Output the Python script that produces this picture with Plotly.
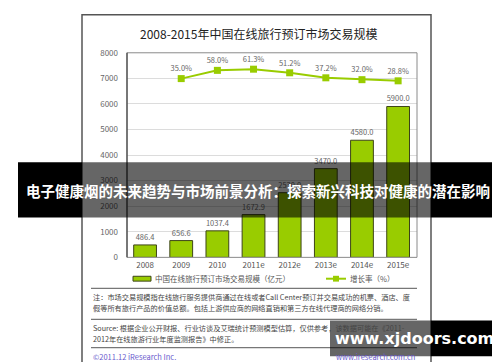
import plotly.graph_objects as go

# ---------------- data ----------------
years = ["2008", "2009", "2010", "2011e", "2012e", "2013e", "2014e", "2015e"]
market_size = [486.4, 656.6, 1037.4, 1672.9, 2530.0, 3470.0, 4580.0, 5900.0]
growth_years = ["2009", "2010", "2011e", "2012e", "2013e", "2014e", "2015e"]
growth_rate = [35.0, 58.0, 61.3, 51.2, 37.2, 32.0, 28.8]
y_ticks = [0, 1000, 2000, 3000, 4000, 5000, 6000, 7000, 8000]

title_text = "2008-2015年中国在线旅行预订市场交易规模"
legend_bar = "中国在线旅行预订市场交易规模（亿元）"
legend_line = "增长率（%）"
note_lines = [
    "注：市场交易规模指在线旅行服务提供商通过在线或者Call Center预订并交易成功的机票、酒店、度",
    "假等所有旅行产品的价值总额。包括上游供应商的网络直销和第三方在线代理商的网络分销。",
]
source_lines = [
    "Source: 根据企业公开财报、行业访谈及艾瑞统计预测模型估算，仅供参考，该数据可能在《2011-",
    "2012年在线旅游行业年度监测报告》中修正。",
]
footer_left = "©2011.12 iResearch Inc."
footer_right = "www.iresearch.com.cn"
banner_text = "电子健康烟的未来趋势与市场前景分析：探索新兴科技对健康的潜在影响"
watermark_text = "www.xjdoors.com"

# ---------------- layout helpers ----------------
W, H = 500, 362
def px(x):
    return x / W
def py(y):
    return 1 - y / H

GREEN = "#99CC00"
CJK = "Noto Sans CJK SC, Noto Sans, DejaVu Sans"

PL, PR, PT, PB = 119, 409, 40, 251

fig = go.Figure()

fig.add_trace(go.Bar(
    x=years, y=market_size,
    marker=dict(color=GREEN, line=dict(color="#3d4418", width=1)),
    text=[f"{v:.1f}" for v in market_size],
    textposition="outside",
    textfont=dict(size=7.5, color="#666", family=CJK),
    constraintext="none",
    cliponaxis=False,
    showlegend=False,
    yaxis="y",
))

fig.add_trace(go.Scatter(
    x=growth_years, y=growth_rate,
    mode="lines+markers+text",
    line=dict(color=GREEN, width=2),
    marker=dict(symbol="square", size=7, color=GREEN),
    text=[f"{v:.1f}%" for v in growth_rate],
    textposition="top center",
    textfont=dict(size=7.5, color="#666", family=CJK),
    cliponaxis=False,
    showlegend=False,
    yaxis="y2",
))

fig.update_layout(
    width=W, height=H, autosize=False,
    margin=dict(l=0, r=0, t=0, b=0),
    paper_bgcolor="white", plot_bgcolor="white",
    bargap=0.37,
    xaxis=dict(
        domain=[px(PL), px(PR)],
        showgrid=False, showline=False, ticks="",
        tickfont=dict(size=8, color="#555", family=CJK),
        ticklabelstandoff=2,
    ),
    yaxis=dict(
        domain=[py(PB), py(PT)],
        range=[0, 8000],
        tickvals=y_ticks,
        showgrid=True, gridcolor="#dcdcdc", gridwidth=1,
        zeroline=False, showline=False, ticks="",
        tickfont=dict(size=8, color="#666", family=CJK),
        ticklabelstandoff=8,
    ),
    yaxis2=dict(
        domain=[py(PB), py(PT)],
        overlaying="y", range=[-464.3, 107.1],
        visible=False,
    ),
)

shapes = []
annotations = []

# outer chart frame
shapes.append(dict(type="rect", xref="paper", yref="paper",
                   x0=px(74), x1=px(423), y0=py(361), y1=py(0.8),
                   line=dict(color="#555", width=1.5), fillcolor="rgba(0,0,0,0)", layer="below"))
# plot frame
shapes.append(dict(type="rect", xref="paper", yref="paper",
                   x0=px(PL), x1=px(PR), y0=py(PB), y1=py(PT),
                   line=dict(color="#8a8a8a", width=1), layer="above"))
shapes.append(dict(type="line", xref="paper", yref="paper",
                   x0=px(PL), x1=px(PL), y0=py(PB), y1=py(PT),
                   line=dict(color="#444", width=1.2)))

# title
annotations.append(dict(x=px(250), y=py(20), xref="paper", yref="paper",
                        text=title_text, showarrow=False,
                        font=dict(size=12, color="#222", family=CJK),
                        xanchor="center", yanchor="middle"))

# legend
shapes.append(dict(type="rect", xref="paper", yref="paper",
                   x0=px(125), x1=px(143), y0=py(275.5), y1=py(270.5),
                   fillcolor=GREEN, line=dict(color="#3d4418", width=1)))
annotations.append(dict(x=px(145), y=py(273), xref="paper", yref="paper",
                        text=legend_bar, showarrow=False,
                        font=dict(size=7.5, color="#555", family=CJK),
                        xanchor="left", yanchor="middle"))
shapes.append(dict(type="line", xref="paper", yref="paper",
                   x0=px(318), x1=px(338), y0=py(273), y1=py(273),
                   line=dict(color=GREEN, width=2)))
shapes.append(dict(type="rect", xref="paper", yref="paper",
                   x0=px(325), x1=px(331), y0=py(276), y1=py(270),
                   fillcolor=GREEN, line=dict(width=0)))
annotations.append(dict(x=px(340), y=py(273), xref="paper", yref="paper",
                        text=legend_line, showarrow=False,
                        font=dict(size=7.5, color="#555", family=CJK),
                        xanchor="left", yanchor="middle"))

# separator lines
for yy in (283, 315, 344):
    shapes.append(dict(type="line", xref="paper", yref="paper",
                       x0=px(83), x1=px(409), y0=py(yy), y1=py(yy),
                       line=dict(color="#777", width=1.3)))

# notes and source
for i, t in enumerate(note_lines):
    annotations.append(dict(x=px(83), y=py(292 + 11 * i), xref="paper", yref="paper",
                            text=t, showarrow=False,
                            font=dict(size=7.2, color="#444", family=CJK),
                            xanchor="left", yanchor="middle"))
for i, t in enumerate(source_lines):
    annotations.append(dict(x=px(83), y=py(324 + 11 * i), xref="paper", yref="paper",
                            text=t, showarrow=False,
                            font=dict(size=7.2, color="#444", family=CJK),
                            xanchor="left", yanchor="middle"))
annotations.append(dict(x=px(83), y=py(353), xref="paper", yref="paper",
                        text=footer_left, showarrow=False,
                        font=dict(size=7.5, color="#6a5acd", family=CJK),
                        xanchor="left", yanchor="middle"))
annotations.append(dict(x=px(409), y=py(353), xref="paper", yref="paper",
                        text=footer_right, showarrow=False,
                        font=dict(size=7.5, color="#6a5acd", family=CJK),
                        xanchor="right", yanchor="middle"))

# banner overlay
BY0, BY1 = 153, 210
shapes.append(dict(type="rect", xref="paper", yref="paper", layer="above",
                   x0=px(10), x1=px(74), y0=py(BY1), y1=py(BY0),
                   fillcolor="black", line=dict(width=0)))
shapes.append(dict(type="rect", xref="paper", yref="paper", layer="above",
                   x0=px(74), x1=px(423), y0=py(BY1), y1=py(BY0),
                   fillcolor="rgba(0,0,0,0.6)", line=dict(width=0)))
shapes.append(dict(type="rect", xref="paper", yref="paper", layer="above",
                   x0=px(423), x1=px(490), y0=py(BY1), y1=py(BY0),
                   fillcolor="black", line=dict(width=0)))
annotations.append(dict(x=px(250), y=py(182), xref="paper", yref="paper",
                        text="<b>" + banner_text + "</b>", showarrow=False,
                        font=dict(size=14.5, color="white", family=CJK),
                        xanchor="center", yanchor="middle"))

# watermark overlay
WX0, WX1, WY0, WY1 = 322, 490, 316, 353
shapes.append(dict(type="rect", xref="paper", yref="paper", layer="above",
                   x0=px(WX0), x1=px(423), y0=py(WY1), y1=py(WY0),
                   fillcolor="rgba(0,0,0,0.6)", line=dict(width=0)))
shapes.append(dict(type="rect", xref="paper", yref="paper", layer="above",
                   x0=px(423), x1=px(WX1), y0=py(WY1), y1=py(WY0),
                   fillcolor="black", line=dict(width=0)))
annotations.append(dict(x=px(406), y=py(335), xref="paper", yref="paper",
                        text="<b>" + watermark_text + "</b>", showarrow=False,
                        font=dict(size=16, color="white", family="DejaVu Sans"),
                        xanchor="center", yanchor="middle"))

fig.update_layout(shapes=shapes, annotations=annotations)

fig.write_html("out.html")
